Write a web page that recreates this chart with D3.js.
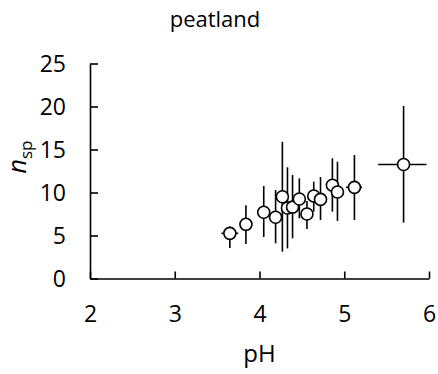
<!DOCTYPE html>
<html>
<head>
<meta charset="utf-8">
<script src="https://cdn.jsdelivr.net/npm/d3@7"></script>
<style>
  body { margin: 0; background: #fff; }
  svg text { font-family: "Open Sans", sans-serif; fill: #000; }
</style>
</head>
<body>
<div id="chart"></div>
<script>
// peatland: species number vs pH
var pH     = [3.65, 3.84, 4.05, 4.19, 4.27, 4.33, 4.39, 4.47, 4.56, 4.64, 4.72, 4.86, 4.92, 5.12, 5.70];
var nsp    = [5.25, 6.3, 7.7, 7.12, 9.5, 8.2, 8.3, 9.24, 7.5, 9.6, 9.2, 10.85, 10.06, 10.6, 13.26];
var nspLo  = [3.55, 4.0, 4.83, 4.09, 3.12, 3.5, 4.67, 7.0, 5.76, 7.77, 6.8, 7.77, 6.7, 6.8, 6.5];
var nspHi  = [6.05, 8.53, 10.76, 10.29, 15.9, 12.93, 12.03, 11.65, 9.0, 11.26, 11.8, 13.98, 13.58, 14.36, 20.06];
var pHLo   = [3.55, null, null, null, null, null, null, null, null, null, null, null, null, 5.02, 5.40];
var pHHi   = [3.75, null, null, null, null, null, null, null, null, null, null, null, null, 5.21, 5.97];

var xTicks = [2, 3, 4, 5, 6];
var yTicks = [0, 5, 10, 15, 20, 25];

var width = 438, height = 374;

var svg = d3.select("#chart").append("svg")
  .attr("width", width)
  .attr("height", height);

var x = d3.scaleLinear().domain([2, 6]).range([90, 429]);
var y = d3.scaleLinear().domain([0, 25]).range([278.5, 63.5]);

// axes, ticks pointing inward like excel
var xAxis = svg.append("g")
  .attr("transform", "translate(0," + y(0) + ")")
  .call(d3.axisBottom(x).tickValues(xTicks).tickFormat(d3.format("d"))
    .tickSizeInner(-7).tickSizeOuter(0).tickPadding(27));
var yAxis = svg.append("g")
  .attr("transform", "translate(" + x(2) + ",0)")
  .call(d3.axisLeft(y).tickValues(yTicks).tickFormat(d3.format("d"))
    .tickSizeInner(-8).tickSizeOuter(0).tickPadding(24));

[xAxis, yAxis].forEach(function(a) {
  a.attr("font-size", null).attr("font-family", null);
  a.select(".domain").attr("stroke", "#000").attr("stroke-width", 1.6);
  a.selectAll(".tick line").attr("stroke", "#000").attr("stroke-width", 1.6);
  a.selectAll(".tick text").style("font-size", "23px");
});
yAxis.selectAll(".tick text").attr("dy", "0.35em");

var pts = pH.map(function(v, i) {
  return { x: v, y: nsp[i], lo: nspLo[i], hi: nspHi[i], xlo: pHLo[i], xhi: pHHi[i] };
});

// error bars
var bars = svg.append("g").attr("stroke", "#000").attr("stroke-width", 1.6);
bars.selectAll("line.v").data(pts).enter().append("line")
  .attr("class", "v")
  .attr("x1", d => x(d.x)).attr("x2", d => x(d.x))
  .attr("y1", d => y(d.lo)).attr("y2", d => y(d.hi));
bars.selectAll("line.h").data(pts.filter(d => d.xlo != null)).enter().append("line")
  .attr("class", "h")
  .attr("x1", d => x(d.xlo)).attr("x2", d => x(d.xhi))
  .attr("y1", d => y(d.y)).attr("y2", d => y(d.y));

// markers
svg.append("g").selectAll("circle").data(pts).enter().append("circle")
  .attr("cx", d => x(d.x))
  .attr("cy", d => y(d.y))
  .attr("r", 6)
  .attr("fill", "#fff")
  .attr("stroke", "#000")
  .attr("stroke-width", 1.6);

// title
svg.append("text")
  .attr("x", 215).attr("y", 27)
  .attr("text-anchor", "middle")
  .style("font-size", "22px")
  .text("peatland");

// axis titles
svg.append("text")
  .attr("x", x(4)).attr("y", 362)
  .attr("text-anchor", "middle")
  .style("font-size", "24px")
  .text("pH");

var yl = svg.append("text")
  .attr("transform", "translate(26,157) rotate(-90)")
  .attr("text-anchor", "middle")
  .style("font-size", "25px");
yl.append("tspan").style("font-style", "italic").text("n");
yl.append("tspan").attr("dy", 6).style("font-size", "17px").text("sp");
</script>
</body>
</html>
